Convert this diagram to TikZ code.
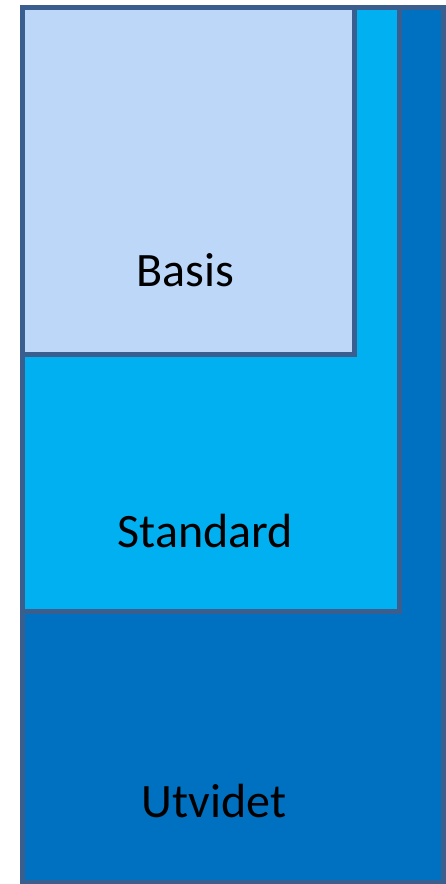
\documentclass[tikz,border=0pt]{standalone}
\usepackage{fontspec}
\setmainfont{Carlito}
\usepackage{tikz}
\usetikzlibrary{positioning}

\definecolor{kant}{HTML}{3A5F8F}
\definecolor{utvidetfarge}{HTML}{0070C0}
\definecolor{standardfarge}{HTML}{00B0F0}
\definecolor{basisfarge}{HTML}{BDD7F9}

\begin{document}
\begin{tikzpicture}[x=1pt, y=-1pt]
	\useasboundingbox (0,0) rectangle (446,884);
	% Nivaa Utvidet
	\draw[draw=kant, line width=5pt, fill=utvidetfarge] (22,7) rectangle (443,882);
	% Nivaa Standard
	\draw[draw=kant, line width=5pt, fill=standardfarge] (22,7) rectangle (399.5,611.5);
	% Nivaa Basis
	\draw[draw=kant, line width=5pt, fill=basisfarge] (22,7) rectangle (354.5,354.5);
	
	\node[anchor=base, font=\fontsize{48}{52}\selectfont, inner sep=0pt] (basis) at (185,286) {Basis};
	\node[anchor=base, font=\fontsize{48}{52}\selectfont, inner sep=0pt] (standard) at (205.5,547) {Standard};
	\node[anchor=base, font=\fontsize{48}{52}\selectfont, inner sep=0pt] (utvidet) at (214,817) {Utvidet};
\end{tikzpicture}
\end{document}
